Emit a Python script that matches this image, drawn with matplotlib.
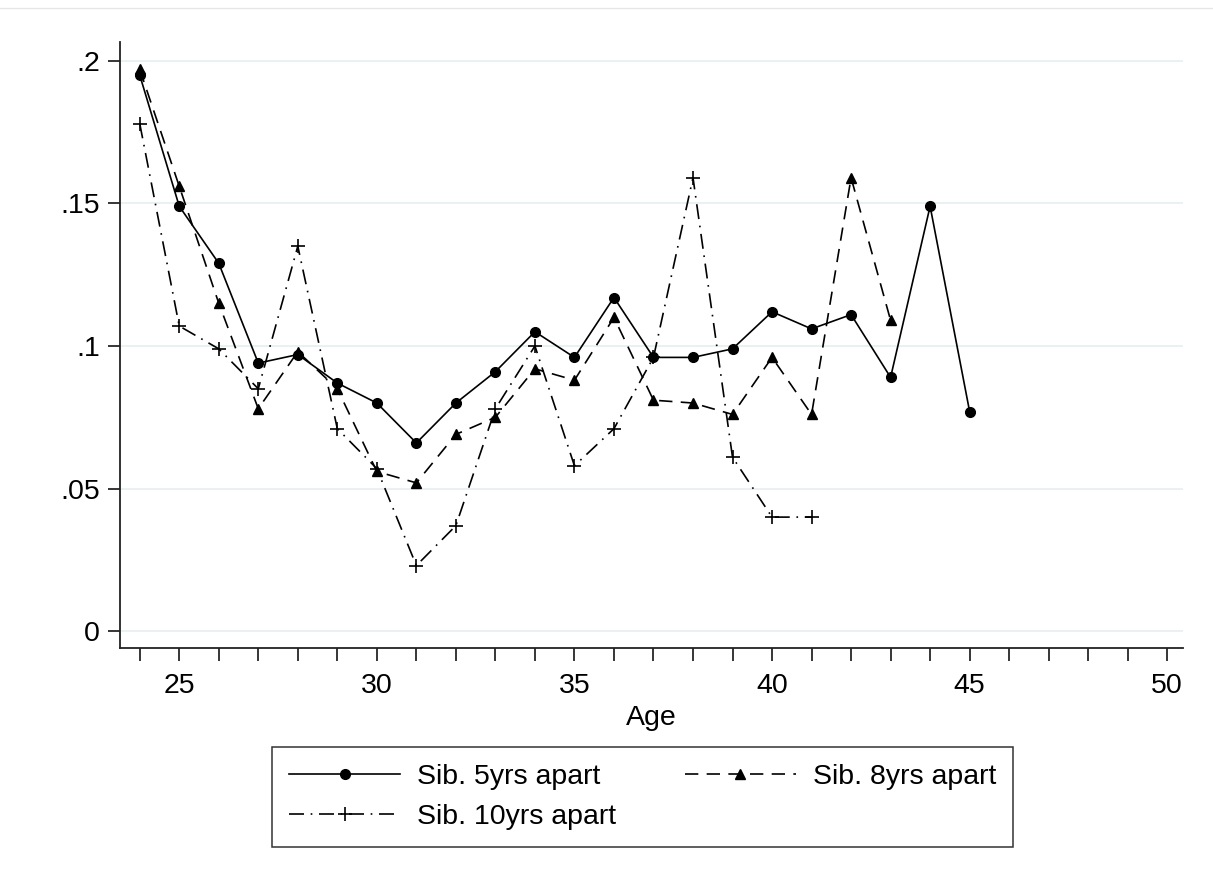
import numpy as np
import matplotlib.pyplot as plt
from matplotlib.lines import Line2D

plt.rcParams["font.family"] = ["Liberation Sans", "DejaVu Sans"]

# ages for each series
age_5 = list(range(24, 46))
age_8 = list(range(24, 44))
age_10 = list(range(24, 42))

sib_5yrs = [0.195, 0.149, 0.129, 0.094, 0.097, 0.087, 0.080, 0.066, 0.080, 0.091,
            0.105, 0.096, 0.117, 0.096, 0.096, 0.099, 0.112, 0.106, 0.111, 0.089,
            0.149, 0.077]
sib_8yrs = [0.197, 0.156, 0.115, 0.078, 0.098, 0.085, 0.056, 0.052, 0.069, 0.075,
            0.092, 0.088, 0.110, 0.081, 0.080, 0.076, 0.096, 0.076, 0.159, 0.109]
sib_10yrs = [0.178, 0.107, 0.099, 0.085, 0.135, 0.071, 0.057, 0.023, 0.037, 0.078,
             0.100, 0.058, 0.071, 0.096, 0.159, 0.061, 0.040, 0.040]

labels = ["Sib. 5yrs apart", "Sib. 8yrs apart", "Sib. 10yrs apart"]
yticks = [0, 0.05, 0.1, 0.15, 0.2]
ytick_labels = ["0", ".05", ".1", ".15", ".2"]

FS = 20.5

fig = plt.figure(figsize=(12.13, 8.82), dpi=100)
ax = fig.add_axes([0.0989, 0.2653, 0.8764, 0.6871])

l5, = ax.plot(age_5, sib_5yrs, color="black", linewidth=1.2, linestyle="-",
              marker="o", markersize=7, label=labels[0])
l8, = ax.plot(age_8, sib_8yrs, color="black", linewidth=1.2, linestyle=(0, (8, 5)),
              marker="^", markersize=7.8, label=labels[1])
l10, = ax.plot(age_10, sib_10yrs, color="black", linewidth=1.2,
               linestyle=(0, (9, 4, 1, 4)), marker="+", markersize=10,
               markeredgewidth=1.2, label=labels[2])

ax.set_xlim(23.5, 50.4)
ax.set_ylim(-0.0059, 0.2066)

ax.set_xticks(range(24, 51))
ax.set_xticklabels([str(a) if a % 5 == 0 else "" for a in range(24, 51)], fontsize=FS)
ax.set_yticks(yticks)
ax.set_yticklabels(ytick_labels, fontsize=FS)
ax.tick_params(axis="both", direction="out", length=9, width=1.1, color="black")
ax.tick_params(axis="x", pad=9)
ax.tick_params(axis="y", pad=5.5)

ax.grid(axis="y", color="#e6eff1", linewidth=1.2)
ax.set_axisbelow(True)

for side in ["top", "right"]:
    ax.spines[side].set_visible(False)
for side in ["left", "bottom"]:
    ax.spines[side].set_linewidth(1.3)
    ax.spines[side].set_color("#222222")

ax.set_xlabel("Age", fontsize=FS, labelpad=4)

# row-wise order: 5yrs, 8yrs on first row, 10yrs on second
leg = fig.legend([l5, l10, l8], [labels[0], labels[2], labels[1]],
                 loc="upper left", bbox_to_anchor=(0.2242, 0.1530), ncol=2,
                 fontsize=FS, frameon=True, fancybox=False, edgecolor="black",
                 numpoints=1, handlelength=3.9, columnspacing=2.4, borderpad=0.6,
                 labelspacing=0.5, handletextpad=0.6, borderaxespad=0)
leg.get_frame().set_linewidth(1.1)

fig.add_artist(Line2D([0, 1], [0.991, 0.991], color="#e6e6e6", linewidth=1))

fig.savefig("out.png", dpi=100)
